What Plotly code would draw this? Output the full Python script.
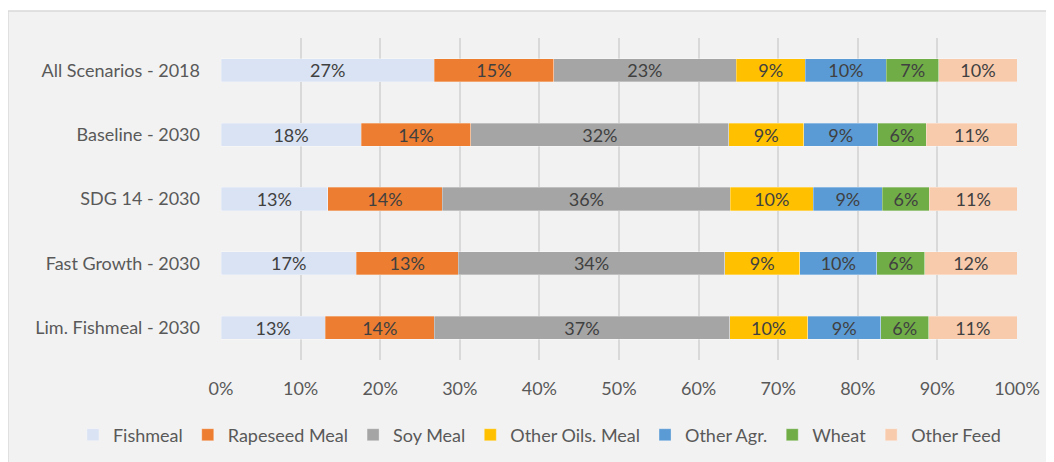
import plotly.graph_objects as go

scenarios = ["All Scenarios - 2018", "Baseline - 2030", "SDG 14 - 2030",
             "Fast Growth - 2030", "Lim. Fishmeal - 2030"]

fishmeal = [26.8, 17.6, 13.4, 17.0, 13.1]
rapeseed_meal = [15.0, 13.8, 14.4, 12.8, 13.7]
soy_meal = [22.9, 32.4, 36.2, 33.5, 37.1]
other_oils_meal = [8.7, 9.4, 10.4, 9.4, 9.8]
other_agr = [10.2, 9.3, 8.7, 9.7, 9.2]
wheat = [6.6, 6.1, 5.9, 6.0, 6.0]
other_feed = [9.8, 11.4, 11.0, 11.6, 11.1]

series = [
    ("Fishmeal", fishmeal, "#dae3f3"),
    ("Rapeseed Meal", rapeseed_meal, "#ed7d31"),
    ("Soy Meal", soy_meal, "#a5a5a5"),
    ("Other Oils. Meal", other_oils_meal, "#ffc000"),
    ("Other Agr.", other_agr, "#5b9bd5"),
    ("Wheat", wheat, "#70ad47"),
    ("Other Feed", other_feed, "#f8cbad"),
]

tick_vals = [0, 10, 20, 30, 40, 50, 60, 70, 80, 90, 100]
tick_text = [f"{v}%" for v in tick_vals]

FONT = "Lato"
FS = 18

fig = go.Figure()
for name, vals, color in series:
    fig.add_trace(go.Bar(
        y=scenarios, x=vals, name=name, orientation="h",
        marker=dict(color=color, line=dict(color="rgba(255,255,255,0.6)", width=0.5)),
        texttemplate="%{x:.0f}%", textposition="inside",
        insidetextanchor="middle", constraintext="none",
        textfont=dict(family=FONT, size=FS, color="#404040"),
    ))

fig.update_layout(
    template="none",
    barmode="stack",
    bargap=0.64,
    width=1046, height=454,
    margin=dict(l=213, r=37, t=30, b=102, autoexpand=False),
    paper_bgcolor="white",
    plot_bgcolor="#f2f2f2",
    font=dict(family=FONT, size=FS, color="#595959"),
    showlegend=True,
    legend=dict(orientation="h", x=-0.186, xanchor="left", y=-0.233, yanchor="middle",
                font=dict(family=FONT, size=FS, color="#595959"),
                bgcolor="rgba(0,0,0,0)", traceorder="normal", itemwidth=30,
                borderwidth=0),
    xaxis=dict(range=[0, 100], tickvals=tick_vals, ticktext=tick_text,
               showgrid=True, gridcolor="#d9d9d9", gridwidth=1.5, zeroline=False,
               showline=False, ticks="", ticklabelstandoff=16, automargin=False,
               tickfont=dict(family=FONT, size=FS, color="#595959"), fixedrange=True),
    yaxis=dict(autorange="reversed", showgrid=False, showline=False, ticks="",
               ticklabelstandoff=20, automargin=False,
               tickfont=dict(family=FONT, size=FS, color="#595959")),
    shapes=[dict(type="rect", xref="paper", yref="paper",
                 x0=-0.2676, x1=1.08, y0=-0.40, y1=1.0839,
                 fillcolor="#f2f2f2", line=dict(color="#d9d9d9", width=1.5),
                 layer="below")],
)

fig.write_html("out.html")
